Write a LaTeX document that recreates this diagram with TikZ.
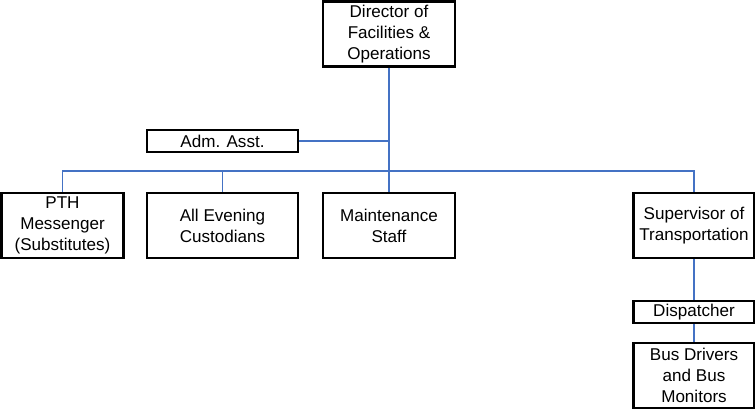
\documentclass[tikz,border=0pt]{standalone}
\usepackage{fontspec}
\setmainfont{Liberation Sans}
\usepackage{xcolor}
\usepackage{tikz}
\usetikzlibrary{positioning}
\definecolor{linkblue}{RGB}{68,114,196}
\tikzset{
x=0.75pt, y=-0.75pt, % one unit is one pixel of the chart
post/.style={draw, line width=1.6pt, align=center, inner sep=0pt,
  font=\fontsize{12.8}{15.75}\selectfont}, % sets the look of each box
tall/.style={post, minimum height=48.75pt}, % three line boxes
flat/.style={post, minimum height=16.5pt}, % one line boxes
link/.style={draw=linkblue, line width=0.8pt}, % the blue lines
}

\begin{document}
\begin{tikzpicture}
        \useasboundingbox (0,0) rectangle (755,409);
        \node[tall, minimum width=99pt] (dir) at (389,34) {Director of\\Facilities \&\\Operations};
        \node[flat, minimum width=113pt] (adm) at (222.5,141) {Adm. Asst.};
        \node[tall, minimum width=91.5pt] (pth) at (62.5,225.5) {PTH\\Messenger\\(Substitutes)};
        \node[tall, minimum width=113pt] (eve) at (222.5,225.5) {All Evening\\Custodians};
        \node[tall, minimum width=99pt] (mnt) at (389,225.5) {Maintenance\\Staff};
        \node[tall, minimum width=90.75pt] (sup) at (694,225.5) {Supervisor of\\Transportation};
        \node[flat, minimum width=90.75pt] (dsp) at (694,312) {Dispatcher};
        \node[tall, minimum width=90.75pt] (bus) at (694,375.5) {Bus Drivers\\and Bus\\Monitors};
        \coordinate (bar) at (0,171);
    
        \draw[link] (dir) -- (mnt)
                    (adm.east) -- (adm.east -| dir.south)
                    (pth.north) |- (bar -| sup.north) -- (sup.north)
                    (eve.north) -- (eve.north |- bar)
                    (sup) -- (dsp)
                    (dsp) -- (bus);
    \end{tikzpicture}
\end{document}
